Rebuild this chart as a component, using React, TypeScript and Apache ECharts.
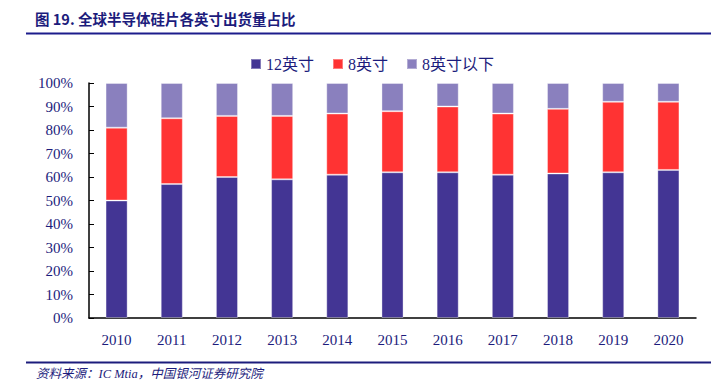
import React, { useEffect, useRef } from "react";
import * as echarts from "echarts";

const years = ["2010", "2011", "2012", "2013", "2014", "2015", "2016", "2017", "2018", "2019", "2020"];
const s12 = [50, 57, 60, 59, 61, 62, 62, 61, 61.5, 62, 63];
const s8 = [31, 28, 26, 27, 26, 26, 28, 26, 27.5, 30, 29];
const sBelow = [19, 15, 14, 14, 13, 12, 10, 13, 11, 8, 8];
const seriesNames = ["12英寸", "8英寸", "8英寸以下"];
const colors = ["#433594", "#FF3333", "#8A80BE"];

const serif = "'Liberation Serif', 'Times New Roman', 'Noto Sans CJK SC', serif";
const navy = "#1C1C7C";

export default function App() {
  const ref = useRef<HTMLDivElement>(null);
  useEffect(() => {
    const chart = echarts.init(ref.current!, undefined, { renderer: "svg" });
    const data = [s12, s8, sBelow];
    chart.setOption({
      animation: false,
      grid: { left: 89, right: 27, top: 83, bottom: 63 },
      legend: {
        data: seriesNames,
        top: 51,
        left: 245,
        itemWidth: 10,
        itemHeight: 10,
        itemGap: 18,
        icon: "rect",
        textStyle: { fontFamily: serif, fontSize: 16, color: navy },
      },
      graphic: [
        {
          type: "text",
          left: 35,
          top: 11,
          style: {
            text: "图 19. 全球半导体硅片各英寸出货量占比",
            font: "bold 14.5px 'Noto Sans CJK SC', sans-serif",
            fill: navy,
          },
        },
        { type: "line", shape: { x1: 26, y1: 33.5, x2: 711, y2: 33.5 }, style: { stroke: "#1C1C8C", lineWidth: 2 } },
        { type: "line", shape: { x1: 26, y1: 362.5, x2: 711, y2: 362.5 }, style: { stroke: "#1C1C7C", lineWidth: 2 } },
        {
          type: "text",
          left: 36,
          top: 368,
          style: {
            text: "资料来源：IC Mtia，中国银河证券研究院",
            font: "italic 12.5px 'Liberation Serif', 'Noto Sans CJK SC', serif",
            fill: navy,
          },
        },
      ],
      xAxis: {
        type: "category",
        data: years,
        axisLine: { lineStyle: { color: "#000", width: 1.5 } },
        axisTick: { inside: true, length: 5, lineStyle: { color: "#000" } },
        axisLabel: { fontFamily: serif, fontSize: 15, color: navy, margin: 14 },
      },
      yAxis: {
        type: "value",
        min: 0,
        max: 100,
        interval: 10,
        axisLine: { show: true, lineStyle: { color: "#000", width: 1.5 } },
        axisTick: { show: true, inside: true, length: 5, lineStyle: { color: "#000" } },
        splitLine: { show: false },
        axisLabel: { fontFamily: serif, fontSize: 15, color: navy, margin: 16, formatter: "{value}%" },
      },
      series: seriesNames.map((name, i) => ({
        name,
        type: "bar",
        stack: "total",
        barWidth: "40%",
        data: data[i],
        itemStyle: { color: colors[i], borderColor: "rgba(255,255,255,0.35)", borderWidth: 1 },
      })),
    });
    return () => chart.dispose();
  }, []);
  return <div ref={ref} style={{ width: 723, height: 381, position: "absolute", left: 0, top: 0, background: "#fff" }} />;
}
